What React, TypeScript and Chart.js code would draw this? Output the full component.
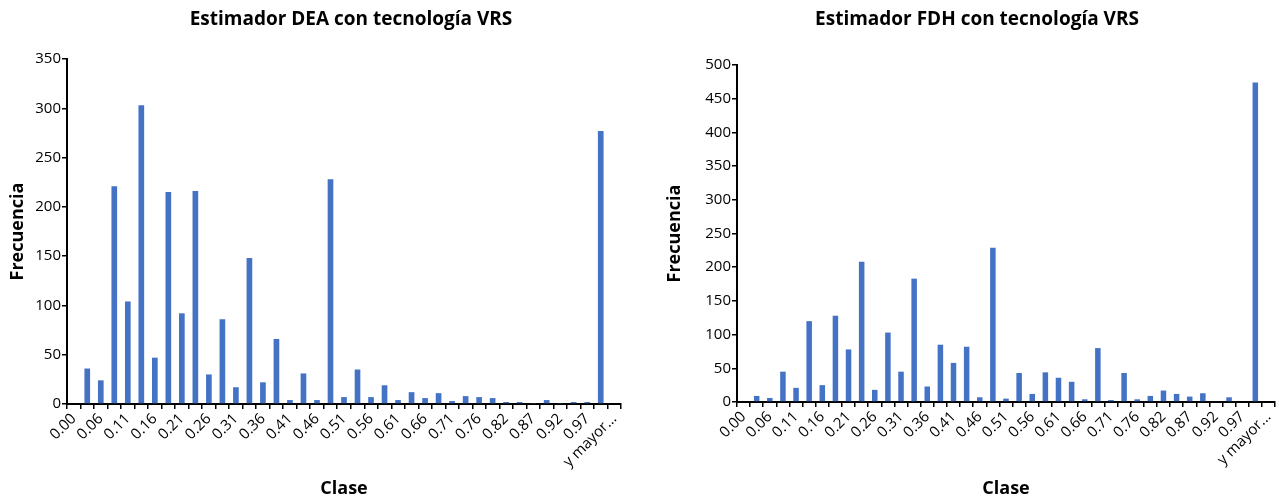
import React, { useEffect, useRef } from 'react';
import { Chart, registerables } from 'chart.js';

Chart.register(...registerables);

const FONT = '"Open Sans", "Noto Sans", sans-serif';

const classLabels = [
  '0.00', '0.03', '0.06', '0.08', '0.11', '0.13', '0.16', '0.18', '0.21', '0.23',
  '0.26', '0.28', '0.31', '0.33', '0.36', '0.38', '0.41', '0.43', '0.46', '0.48',
  '0.51', '0.54', '0.56', '0.59', '0.61', '0.64', '0.66', '0.69', '0.71', '0.74',
  '0.76', '0.79', '0.82', '0.84', '0.87', '0.89', '0.92', '0.94', '0.97', '1.00',
  'y mayor...',
];

const deaFrequencies = [
  0, 36, 24, 221, 104, 303, 47, 215, 92, 216,
  30, 86, 17, 148, 22, 66, 4, 31, 4, 228,
  7, 35, 7, 19, 4, 12, 6, 11, 3, 8,
  7, 6, 2, 2, 1, 4, 1, 2, 2, 277,
  0,
];

const fdhFrequencies = [
  0, 9, 6, 45, 21, 120, 25, 128, 78, 208,
  18, 103, 45, 183, 23, 85, 58, 82, 7, 229,
  5, 43, 12, 44, 36, 30, 4, 80, 3, 43,
  4, 9, 17, 12, 8, 13, 1, 7, 0, 474,
  0,
];

const deaTitle = 'Estimador DEA con tecnología VRS';
const fdhTitle = 'Estimador FDH con tecnología VRS';
const xTitle = 'Clase';
const yTitle = 'Frecuencia';
const deaMax = 350;
const fdhMax = 500;
const yStep = 50;

type HistProps = {
  title: string;
  values: number[];
  yMax: number;
  canvasLeft: number;
  canvasWidth: number;
  plotLeft: number;
  plotRight: number;
  plotTop: number;
  plotBottom: number;
  yTitlePad: number;
};

const H = 500;

function Histogram(p: HistProps) {
  const ref = useRef<HTMLCanvasElement | null>(null);
  useEffect(() => {
    if (!ref.current) return;
    const titleSize = 19;
    const titleLine = titleSize * 1.2;
    const titleTop = 8;
    const padRight = p.canvasWidth - p.plotRight;
    const chart = new Chart(ref.current, {
      type: 'bar',
      data: {
        labels: classLabels,
        datasets: [
          {
            label: yTitle,
            data: p.values,
            backgroundColor: '#4472C4',
            borderWidth: 0,
            barPercentage: 0.42,
            categoryPercentage: 1,
            yAxisID: 'y',
          },
        ],
      },
      options: {
        responsive: false,
        animation: false,
        layout: { padding: 0 },
        plugins: {
          legend: { display: false },
          title: {
            display: true,
            text: p.title,
            color: '#000',
            font: { family: FONT, size: titleSize, weight: 'bold' },
            padding: { top: titleTop, bottom: p.plotTop - titleTop - titleLine },
          },
        },
        scales: {
          x: {
            type: 'category',
            grid: {
              display: true,
              drawOnChartArea: false,
              drawTicks: true,
              tickLength: 5,
              color: '#000',
              lineWidth: 1.5,
              offset: true,
            },
            border: { display: true, color: '#000', width: 2 },
            ticks: {
              autoSkip: false,
              maxRotation: 45,
              minRotation: 45,
              padding: 1,
              color: '#000',
              font: { family: FONT, size: 15 },
              callback: (_v: any, i: number) => (i % 2 === 0 ? classLabels[i] : ''),
            },
            title: {
              display: true,
              text: xTitle,
              color: '#000',
              font: { family: FONT, size: 18, weight: 'bold' },
              padding: { top: 0, bottom: 0 },
            },
            afterFit: (s: any) => {
              s.height = H - p.plotBottom;
            },
          },
          y: {
            position: 'left',
            min: 0,
            max: p.yMax,
            grid: {
              display: true,
              drawOnChartArea: false,
              drawTicks: true,
              tickLength: 5,
              color: '#000',
              lineWidth: 1.5,
            },
            border: { display: true, color: '#000', width: 2 },
            ticks: {
              stepSize: yStep,
              padding: 1,
              color: '#000',
              font: { family: FONT, size: 15 },
            },
            title: {
              display: true,
              text: yTitle,
              color: '#000',
              font: { family: FONT, size: 18, weight: 'bold' },
              padding: { top: p.yTitlePad, bottom: 0 },
            },
            afterFit: (s: any) => {
              s.width = p.plotLeft;
            },
          },
          spacer: {
            type: 'linear',
            position: 'right',
            display: true,
            grid: { display: false, drawTicks: false },
            border: { display: false },
            ticks: { display: false },
            afterFit: (s: any) => {
              s.width = padRight;
            },
          },
        },
      },
    } as any);
    return () => chart.destroy();
  }, []);
  return (
    <canvas
      ref={ref}
      width={p.canvasWidth}
      height={H}
      style={{ position: 'absolute', left: p.canvasLeft, top: 0, width: p.canvasWidth, height: H }}
    />
  );
}

export default function App() {
  return (
    <div
      style={{
        position: 'absolute',
        left: 0,
        top: 0,
        width: 1279,
        height: H,
        overflow: 'hidden',
        background: '#fff',
      }}
    >
      <Histogram
        title={deaTitle}
        values={deaFrequencies}
        yMax={deaMax}
        canvasLeft={0}
        canvasWidth={702}
        plotLeft={67}
        plotRight={621}
        plotTop={59}
        plotBottom={404}
        yTitlePad={7}
      />
      <Histogram
        title={fdhTitle}
        values={fdhFrequencies}
        yMax={fdhMax}
        canvasLeft={650}
        canvasWidth={654}
        plotLeft={87}
        plotRight={625}
        plotTop={65}
        plotBottom={402}
        yTitlePad={14}
      />
    </div>
  );
}
